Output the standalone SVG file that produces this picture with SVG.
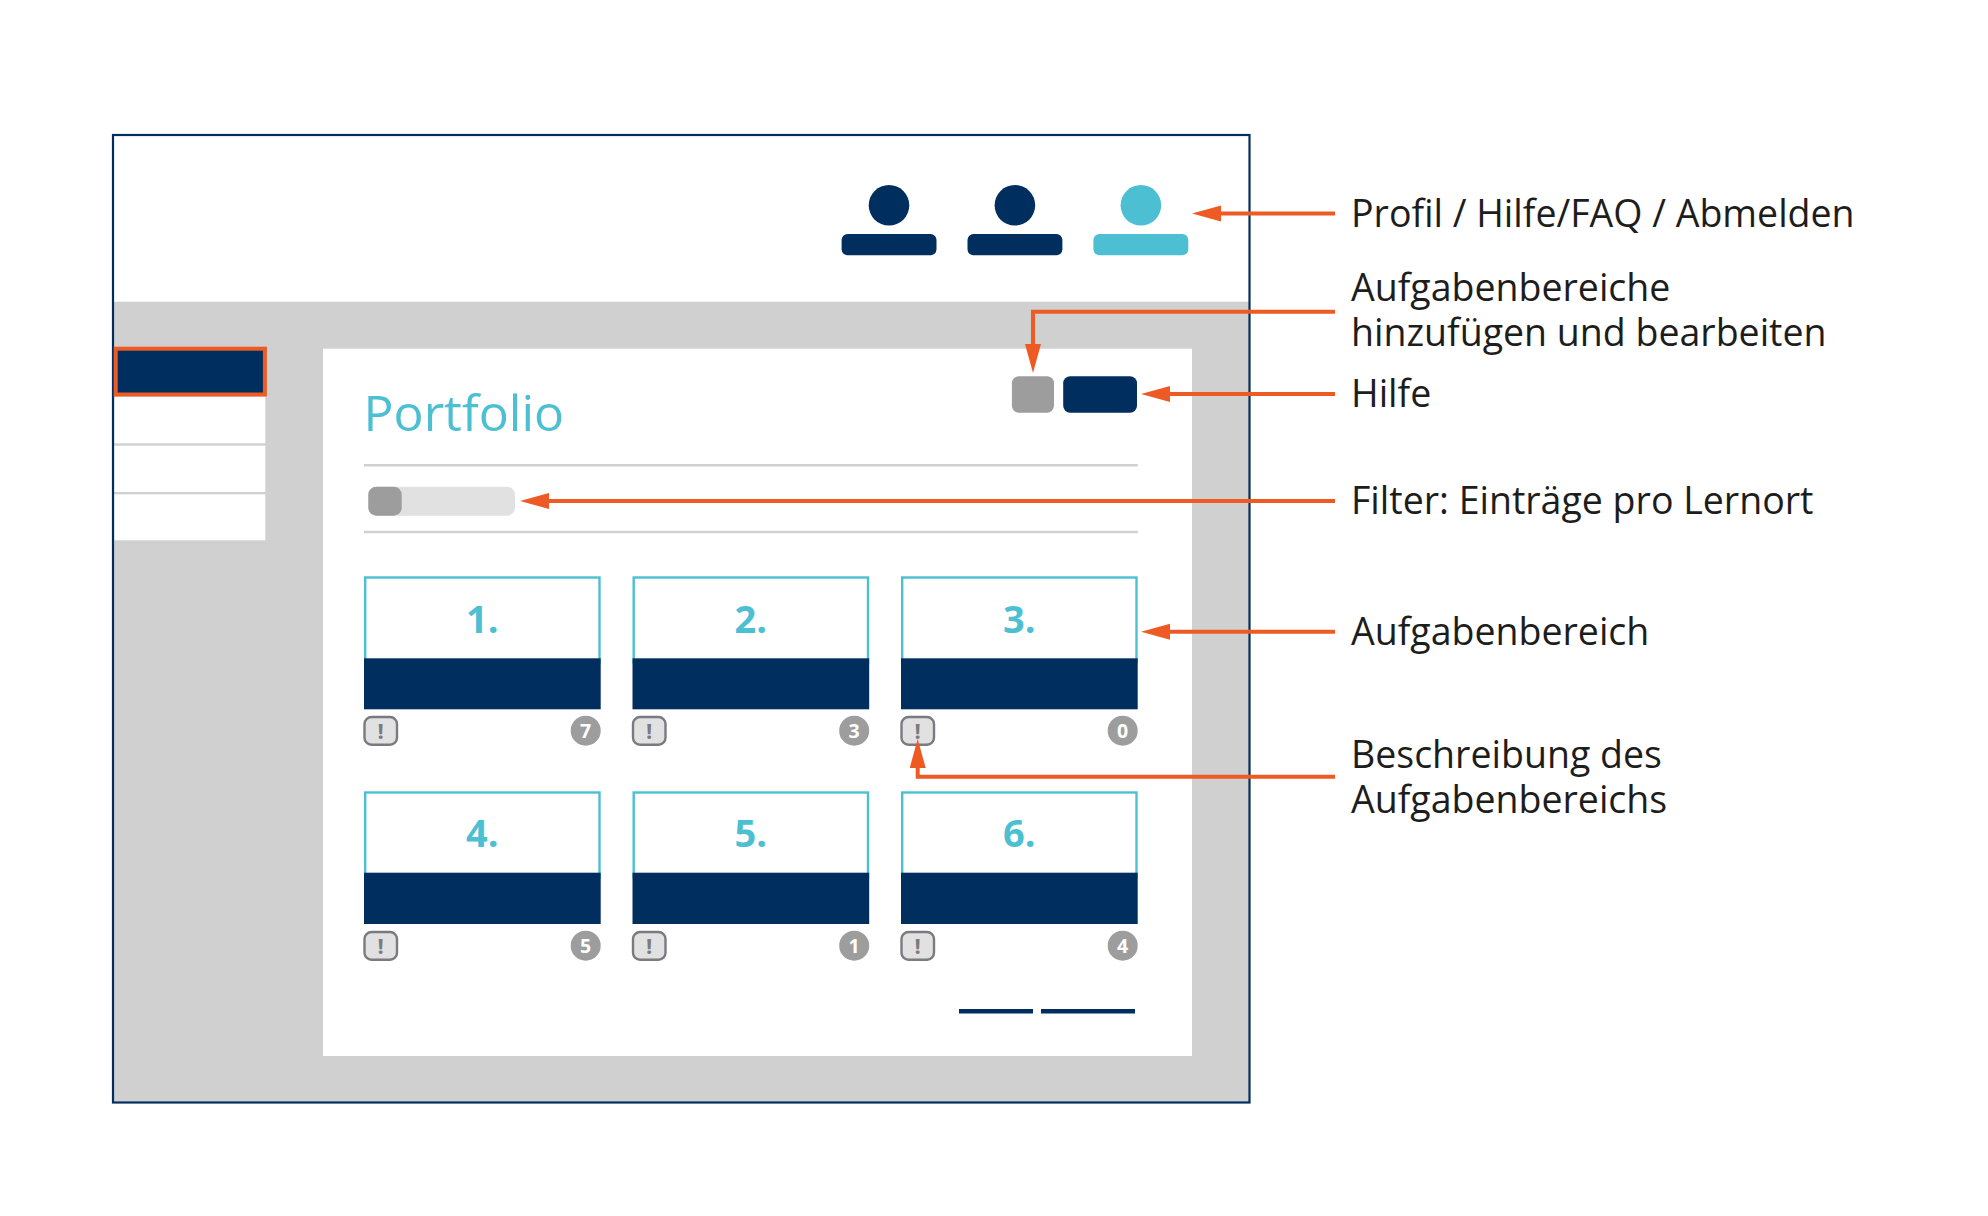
<svg xmlns="http://www.w3.org/2000/svg" width="1988" height="1216" viewBox="0 0 1988 1216">
<style>
text{font-family:"Open Sans","Noto Sans","Liberation Sans",sans-serif}
.lbl{font-size:37.500px;fill:#1d1d1b}
.num{font-size:38px;font-weight:700;fill:#4dbfd3;text-anchor:middle}
.navy{fill:#002f5f}
.teal{fill:#4dbfd3}
.nav{fill:#fff}
.rule{stroke:#d0d0d0;stroke-width:2.500;fill:none}
.cardtop{fill:#fff;stroke:#4dbfd3;stroke-width:2.400}
.bang{fill:#e1e1e1;stroke:#7a7a80;stroke-width:2.400}
.bangt{font-size:22px;font-weight:700;fill:#7a7a80;text-anchor:middle}
.badge{fill:#9d9d9d}
.badget{font-size:19.500px;font-weight:700;fill:#fff;text-anchor:middle}
.conn{fill:none;stroke:#ee5a24;stroke-width:4;marker-end:url(#ah)}
</style>
<defs>
<marker id="ah" markerUnits="userSpaceOnUse" markerWidth="32" markerHeight="18" refX="0" refY="8" orient="auto" viewBox="0 0 32 18"><path d="M0 0L29 8L0 16z" fill="#ee5a24"/></marker>
</defs>
<rect width="1988" height="1216" fill="#fff"/>
<g id="frame">
<rect x="113" y="135" width="1136.500" height="967.500" fill="#fff"/>
<rect x="113" y="301.700" width="1136.500" height="800.800" fill="#d0d0d0"/>
<rect x="113" y="135" width="1136.500" height="967.500" fill="none" stroke="#002f5f" stroke-width="2.200"/>
</g>
<g id="profile-icon-1"><circle cx="889" cy="205.300" r="20.300" class="navy"/><rect x="841.600" y="234" width="94.900" height="21.300" rx="6" class="navy"/></g>
<g id="profile-icon-2"><circle cx="1014.900" cy="205.300" r="20.300" class="navy"/><rect x="967.500" y="234" width="94.900" height="21.300" rx="6" class="navy"/></g>
<g id="profile-icon-3"><circle cx="1140.900" cy="205.300" r="20.300" class="teal"/><rect x="1093.400" y="234" width="94.900" height="21.300" rx="6" class="teal"/></g>
<g id="sidebar">
<rect x="114.500" y="396.700" width="150.800" height="46.600" class="nav"/>
<rect x="114.500" y="445.700" width="150.800" height="46.300" class="nav"/>
<rect x="114.500" y="494.300" width="150.800" height="46" class="nav"/>
<rect x="115.700" y="348.700" width="149.200" height="45.800" class="navy" stroke="#ee5a24" stroke-width="4"/>
</g>
<g id="panel">
<rect x="323" y="348.700" width="869" height="707.300" fill="#fff"/>
<text x="363.500" y="430.700" font-size="50" font-weight="400" fill="#4dbfd3">Portfolio</text>
<line x1="364" y1="465.300" x2="1137.800" y2="465.300" class="rule"/>
<line x1="364" y1="532" x2="1137.800" y2="532" class="rule"/>
</g>
<g id="btn-edit"><rect x="1011.900" y="376.300" width="42.100" height="36.400" rx="7" fill="#9d9d9d"/></g>
<g id="btn-help"><rect x="1063.200" y="376.300" width="73.800" height="36.400" rx="7" class="navy"/></g>
<g id="filter"><rect x="368.300" y="486.700" width="146.700" height="29" rx="8" fill="#e1e1e1"/><rect x="368.300" y="486.700" width="33.400" height="29" rx="8" fill="#9d9d9d"/></g>
<g id="card-1">
<rect x="365.200" y="577.500" width="234.300" height="85" class="cardtop"/><rect x="364" y="658.300" width="236.700" height="51" class="navy"/>
<text x="482.300" y="633.300" class="num">1.</text>
<rect x="364.500" y="717" width="32.500" height="27.700" rx="7" class="bang"/><text x="380.700" y="739.300" class="bangt">!</text>
<circle cx="585.700" cy="730.700" r="15" class="badge"/><text x="585.700" y="737.600" class="badget">7</text>
</g>
<g id="card-2">
<rect x="633.700" y="577.500" width="234.300" height="85" class="cardtop"/><rect x="632.500" y="658.300" width="236.700" height="51" class="navy"/>
<text x="750.800" y="633.300" class="num">2.</text>
<rect x="633" y="717" width="32.500" height="27.700" rx="7" class="bang"/><text x="649.200" y="739.300" class="bangt">!</text>
<circle cx="854.200" cy="730.700" r="15" class="badge"/><text x="854.200" y="737.600" class="badget">3</text>
</g>
<g id="card-3">
<rect x="902.200" y="577.500" width="234.300" height="85" class="cardtop"/><rect x="901" y="658.300" width="236.700" height="51" class="navy"/>
<text x="1019.300" y="633.300" class="num">3.</text>
<rect x="901.500" y="717" width="32.500" height="27.700" rx="7" class="bang"/><text x="917.700" y="739.300" class="bangt">!</text>
<circle cx="1122.700" cy="730.700" r="15" class="badge"/><text x="1122.700" y="737.600" class="badget">0</text>
</g>
<g id="card-4">
<rect x="365.200" y="792.500" width="234.300" height="85" class="cardtop"/><rect x="364" y="872.700" width="236.700" height="51.300" class="navy"/>
<text x="482.300" y="847.300" class="num">4.</text>
<rect x="364.500" y="932" width="32.500" height="27.700" rx="7" class="bang"/><text x="380.700" y="954.300" class="bangt">!</text>
<circle cx="585.700" cy="945.700" r="15" class="badge"/><text x="585.700" y="952.600" class="badget">5</text>
</g>
<g id="card-5">
<rect x="633.700" y="792.500" width="234.300" height="85" class="cardtop"/><rect x="632.500" y="872.700" width="236.700" height="51.300" class="navy"/>
<text x="750.800" y="847.300" class="num">5.</text>
<rect x="633" y="932" width="32.500" height="27.700" rx="7" class="bang"/><text x="649.200" y="954.300" class="bangt">!</text>
<circle cx="854.200" cy="945.700" r="15" class="badge"/><text x="854.200" y="952.600" class="badget">1</text>
</g>
<g id="card-6">
<rect x="902.200" y="792.500" width="234.300" height="85" class="cardtop"/><rect x="901" y="872.700" width="236.700" height="51.300" class="navy"/>
<text x="1019.300" y="847.300" class="num">6.</text>
<rect x="901.500" y="932" width="32.500" height="27.700" rx="7" class="bang"/><text x="917.700" y="954.300" class="bangt">!</text>
<circle cx="1122.700" cy="945.700" r="15" class="badge"/><text x="1122.700" y="952.600" class="badget">4</text>
</g>
<g id="pagination">
<rect x="959" y="1009" width="74" height="4.500" class="navy"/>
<rect x="1041" y="1009" width="94" height="4.500" class="navy"/>
</g>
<g id="connectors">
<path d="M1335 213.500H1221" class="conn"/>
<path d="M1335 311.700H1033V344" class="conn"/>
<path d="M1335 394H1170" class="conn"/>
<path d="M1335 501H549" class="conn"/>
<path d="M1335 631.700H1170" class="conn"/>
<path d="M1335 776.700H917.700V768" class="conn"/>
</g>
<g id="labels">
<text x="1351" y="227.200" class="lbl">Profil / Hilfe/FAQ / Abmelden</text>
<text x="1351" y="301.200" class="lbl">Aufgabenbereiche</text>
<text x="1351" y="346.200" class="lbl">hinzufügen und bearbeiten</text>
<text x="1351" y="406.800" class="lbl">Hilfe</text>
<text x="1351" y="514" class="lbl">Filter: Einträge pro Lernort</text>
<text x="1351" y="645.300" class="lbl">Aufgabenbereich</text>
<text x="1351" y="768" class="lbl">Beschreibung des</text>
<text x="1351" y="813" class="lbl">Aufgabenbereichs</text>
</g>
</svg>
